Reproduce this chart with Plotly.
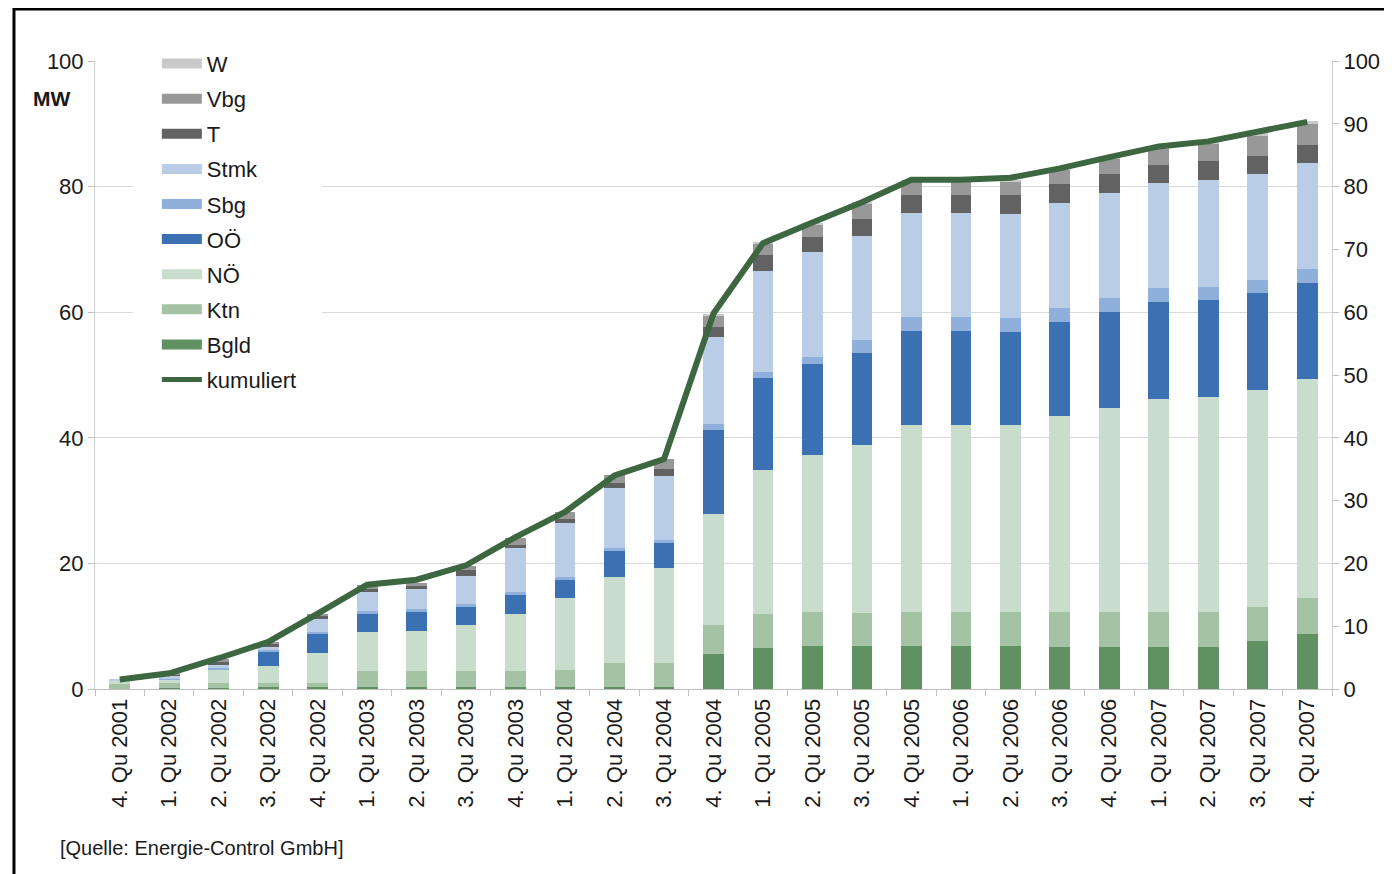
import plotly.graph_objects as go

quarters = ["4. Qu 2001", "1. Qu 2002", "2. Qu 2002", "3. Qu 2002", "4. Qu 2002",
            "1. Qu 2003", "2. Qu 2003", "3. Qu 2003", "4. Qu 2003",
            "1. Qu 2004", "2. Qu 2004", "3. Qu 2004", "4. Qu 2004",
            "1. Qu 2005", "2. Qu 2005", "3. Qu 2005", "4. Qu 2005",
            "1. Qu 2006", "2. Qu 2006", "3. Qu 2006", "4. Qu 2006",
            "1. Qu 2007", "2. Qu 2007", "3. Qu 2007", "4. Qu 2007"]

bgld = [0.0, 0.1, 0.2, 0.3, 0.3, 0.3, 0.3, 0.3, 0.3, 0.3, 0.3, 0.3, 5.6,
        6.5, 6.8, 6.8, 6.8, 6.8, 6.8, 6.7, 6.7, 6.7, 6.7, 7.6, 8.8]
ktn = [0.8, 0.8, 0.8, 0.7, 0.6, 2.5, 2.5, 2.5, 2.6, 2.8, 3.9, 3.9, 4.6,
       5.5, 5.5, 5.3, 5.5, 5.5, 5.5, 5.5, 5.5, 5.5, 5.5, 5.5, 5.7]
noe = [0.6, 0.6, 2.1, 2.7, 4.9, 6.2, 6.5, 7.4, 9.1, 11.4, 13.7, 15.0, 17.7,
       22.9, 24.9, 26.8, 29.8, 29.8, 29.7, 31.3, 32.6, 34.0, 34.3, 34.5, 34.8]
ooe = [0.0, 0.0, 0.0, 2.2, 2.9, 2.9, 2.9, 2.9, 3.0, 2.9, 4.0, 4.0, 13.4,
       14.6, 14.6, 14.6, 14.9, 14.9, 14.9, 15.0, 15.3, 15.4, 15.4, 15.4, 15.3]
sbg = [0.0, 0.1, 0.2, 0.3, 0.4, 0.5, 0.5, 0.5, 0.5, 0.5, 0.6, 0.6, 0.9,
       1.0, 1.1, 2.1, 2.2, 2.2, 2.1, 2.2, 2.2, 2.2, 2.1, 2.1, 2.3]
stmk = [0.1, 0.6, 0.6, 0.5, 2.1, 3.0, 3.3, 4.4, 6.9, 8.5, 9.5, 10.1, 13.9,
        16.1, 16.7, 16.6, 16.6, 16.6, 16.7, 16.7, 16.7, 16.7, 17.1, 16.9, 16.8]
tirol = [0.0, 0.1, 0.4, 0.4, 0.4, 0.5, 0.4, 0.9, 0.6, 0.6, 0.8, 1.1, 1.6,
         2.5, 2.4, 2.7, 2.8, 2.8, 2.9, 3.0, 3.0, 3.0, 2.9, 2.9, 3.0]
vbg = [0.0, 0.1, 0.5, 0.4, 0.4, 0.6, 0.5, 0.7, 1.0, 1.2, 1.3, 1.7, 1.8,
       1.9, 2.0, 2.4, 2.2, 2.2, 2.2, 2.3, 2.5, 2.5, 2.9, 3.3, 3.4]
wien = [0.0, 0.0, 0.0, 0.0, 0.0, 0.0, 0.0, 0.0, 0.0, 0.0, 0.0, 0.0, 0.2,
        0.1, 0.2, 0.2, 0.2, 0.2, 0.2, 0.2, 0.2, 0.2, 0.2, 0.3, 0.3]
kumuliert = [1.5, 2.5, 4.9, 7.5, 12.0, 16.6, 17.4, 19.7, 24.2, 28.2, 34.0, 36.6, 59.8,
             71.0, 74.3, 77.5, 81.1, 81.1, 81.4, 82.9, 84.7, 86.4, 87.2, 88.7, 90.3]

left_ticks = [0, 20, 40, 60, 80, 100]
right_ticks = [0, 10, 20, 30, 40, 50, 60, 70, 80, 90, 100]

# stack order bottom -> top
series = [
    ("Bgld", bgld, "#5f9163"),
    ("Ktn", ktn, "#a4c3a4"),
    ("NÖ", noe, "#c9ddcc"),
    ("OÖ", ooe, "#3b71b2"),
    ("Sbg", sbg, "#8fb0da"),
    ("Stmk", stmk, "#b9cde6"),
    ("T", tirol, "#626262"),
    ("Vbg", vbg, "#989898"),
    ("W", wien, "#c9c9c9"),
]
line_color = "#3d6741"
FONT = "Liberation Sans, Arial, sans-serif"
TXT = "#1a1a1a"
FS = 22

fig = go.Figure()
for name, vals, col in series:
    fig.add_trace(go.Bar(x=quarters, y=vals, name=name, marker=dict(color=col, line=dict(width=0)),
                         showlegend=False, hovertemplate=name + ": %{y} MW<extra></extra>"))

fig.add_trace(go.Scatter(x=quarters, y=kumuliert, name="kumuliert", mode="lines",
                         line=dict(color=line_color, width=6), yaxis="y2", showlegend=False))

# legend entries (top -> bottom)
for name, vals, col in reversed(series):
    fig.add_trace(go.Scatter(x=[None], y=[None], name=name, mode="lines",
                             line=dict(color=col, width=13), legendgroup=name, showlegend=True))
fig.add_trace(go.Scatter(x=[None], y=[None], name="kumuliert", mode="lines",
                         line=dict(color=line_color, width=5), legendgroup="kumuliert", showlegend=True))

fig.update_layout(
    width=1392, height=874,
    margin=dict(l=87, r=68, t=53, b=193),
    paper_bgcolor="white", plot_bgcolor="white",
    barmode="stack", bargap=0.58,
    font=dict(family=FONT, size=FS, color=TXT),
    showlegend=True,
    legend=dict(x=0.050, y=1.029, xanchor="left", yanchor="top", bgcolor="white",
                font=dict(family=FONT, size=FS, color=TXT),
                traceorder="grouped", tracegroupgap=3.5, itemwidth=40,
                borderwidth=0),
    xaxis=dict(type="category", tickangle=-90, tickfont=dict(family=FONT, size=FS, color=TXT),
               showline=True, linecolor="#bfbfbf", linewidth=1, ticks="outside", ticklen=6,
               tickcolor="#bfbfbf", tickson="boundaries", showgrid=False, zeroline=False),
    yaxis=dict(range=[0, 100], tickvals=left_ticks, ticks="outside", ticklen=6, tickcolor="#bfbfbf",
               showline=True, linecolor="#d0d0d0", linewidth=1, showgrid=True,
               gridcolor="#d9d9d9", gridwidth=1, zeroline=False,
               tickfont=dict(family=FONT, size=FS, color=TXT)),
    yaxis2=dict(range=[0, 100], tickvals=right_ticks, overlaying="y", side="right",
                ticks="outside", ticklen=6, tickcolor="#bfbfbf", showline=True,
                linecolor="#d0d0d0", linewidth=1, showgrid=False, zeroline=False,
                tickfont=dict(family=FONT, size=FS, color=TXT)),
    annotations=[
        dict(text="<b>MW</b>", xref="paper", yref="paper", x=-0.0348, y=0.9395,
             xanchor="center", yanchor="middle", showarrow=False,
             font=dict(family=FONT, size=FS - 1, color=TXT)),
        dict(text="[Quelle: Energie-Control GmbH]", xref="paper", yref="paper",
             x=-0.0299, y=-0.253, xanchor="left", yanchor="middle", showarrow=False,
             font=dict(family=FONT, size=FS - 2, color=TXT)),
    ],
    shapes=[
        # white panel behind the legend, hiding the gridlines there (no bars reach this area)
        dict(type="rect", xref="paper", yref="paper", x0=0.0307, x1=0.1836, y0=0.47, y1=1.02,
             line=dict(width=0), fillcolor="white", layer="above"),
        dict(type="rect", xref="paper", yref="paper", x0=-0.0655, x1=1.07, y0=-0.33, y1=1.0828,
             line=dict(color="black", width=3), fillcolor="rgba(0,0,0,0)", layer="above"),
    ],
)

fig.write_html("out.html")
